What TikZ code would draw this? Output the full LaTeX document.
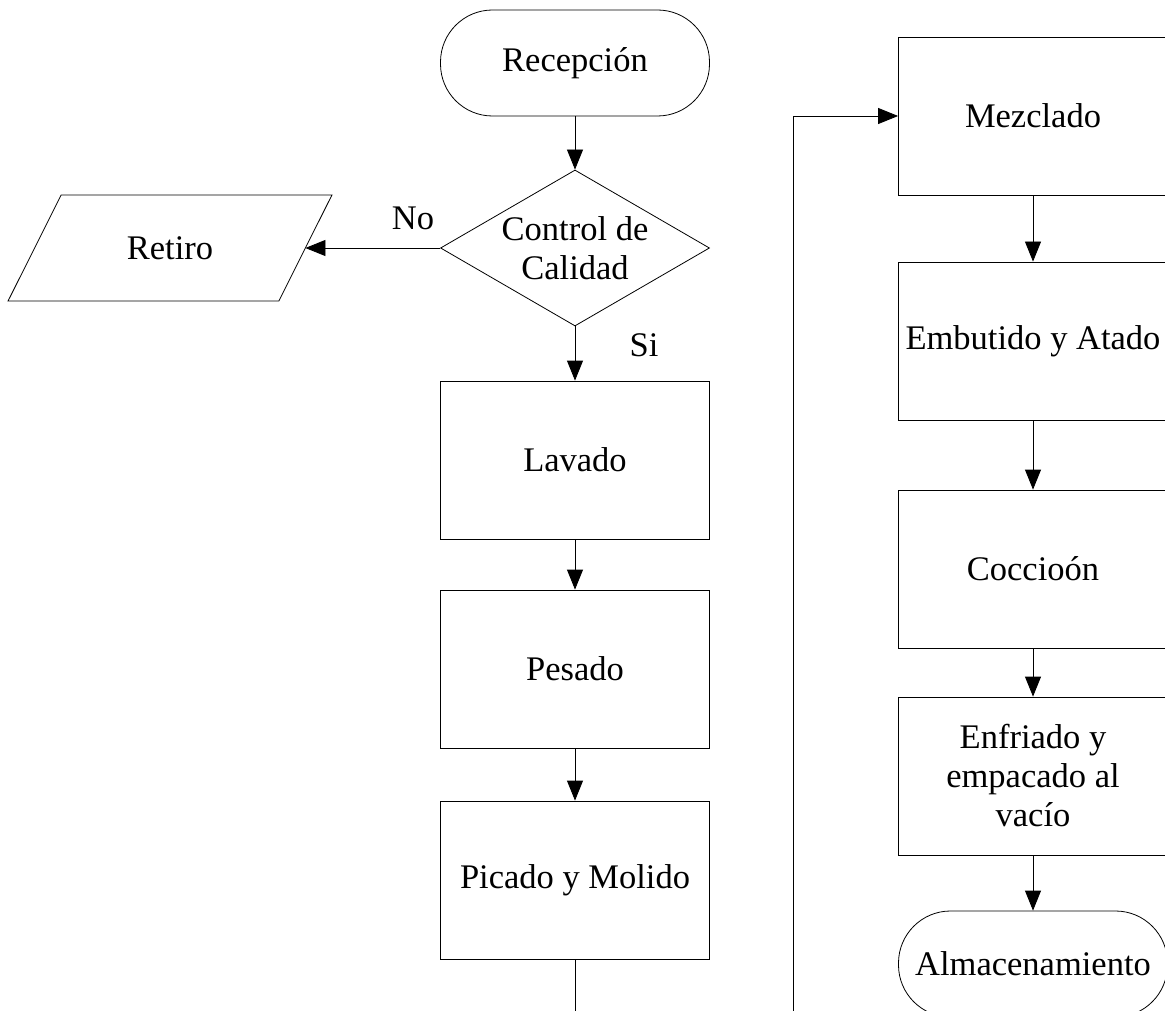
\documentclass[tikz,border=0pt]{standalone}
\usepackage{fontspec}
\setmainfont{Liberation Serif}
\usetikzlibrary{shapes.geometric,arrows.meta}

\begin{document}
\begin{tikzpicture}[x=1pt,y=-1pt,
        font=\fontsize{34.5}{39}\selectfont,
        line width=0.8pt,
        >={Triangle[length=20pt,width=16pt]},
        proceso/.style={draw,rectangle,minimum width=269pt,minimum height=158pt,align=center},
        terminal/.style={draw,rectangle,rounded corners=52pt,minimum width=269pt,minimum height=106pt},
        decision/.style={draw,diamond,aspect=1.72,inner sep=0pt,minimum width=269pt,minimum height=156pt,align=center},
        salida/.style={rectangle,minimum width=270pt,minimum height=105pt}]
            \useasboundingbox (0,0) rectangle (1165,1011);
            \clip (0,0) rectangle (1165,1011);
            % columna izquierda
            \node[terminal] (recepcion) at (575,63) {Recepción};
            \node[decision] (control) at (575,248) {Control de\\Calidad};
            \node[salida] (retiro) at (170,248) {Retiro};
            \draw ([xshift=26.5pt]retiro.north west) -- ([xshift=26.5pt]retiro.north east)
                -- ([xshift=-26.5pt]retiro.south east) -- ([xshift=-26.5pt]retiro.south west) -- cycle;
            \node[proceso] (lavado) at (575,460) {Lavado};
            \node[proceso] (pesado) at (575,669) {Pesado};
            \node[proceso] (picado) at (575,880) {Picado y Molido};
            % columna derecha
            \node[proceso] (mezclado) at (1033,116) {Mezclado};
            \node[proceso] (embutido) at (1033,341) {Embutido y Atado};
            \node[proceso] (coccion) at (1033,569) {Coccioón};
            \node[proceso] (enfriado) at (1033,776) {Enfriado y\\empacado al\\vacío};
            \node[terminal] (almacen) at (1033,964) {Almacenamiento};
            \node (no) at (413,218) {No};
            \node (si) at (644,345) {Si};
            \coordinate (vuelta) at (793,1045);
            \draw[->] (recepcion) -- (control);
            \draw[->] (control) -- (retiro);
            \draw[->] (control) -- (lavado);
            \draw[->] (lavado) -- (pesado);
            \draw[->] (pesado) -- (picado);
            \draw[->] (picado.south) |- (vuelta) |- (mezclado.west);
            \draw[->] (mezclado) -- (embutido);
            \draw[->] (embutido) -- (coccion);
            \draw[->] (coccion) -- (enfriado);
            \draw[->] (enfriado) -- (almacen);
        \end{tikzpicture}
\end{document}
